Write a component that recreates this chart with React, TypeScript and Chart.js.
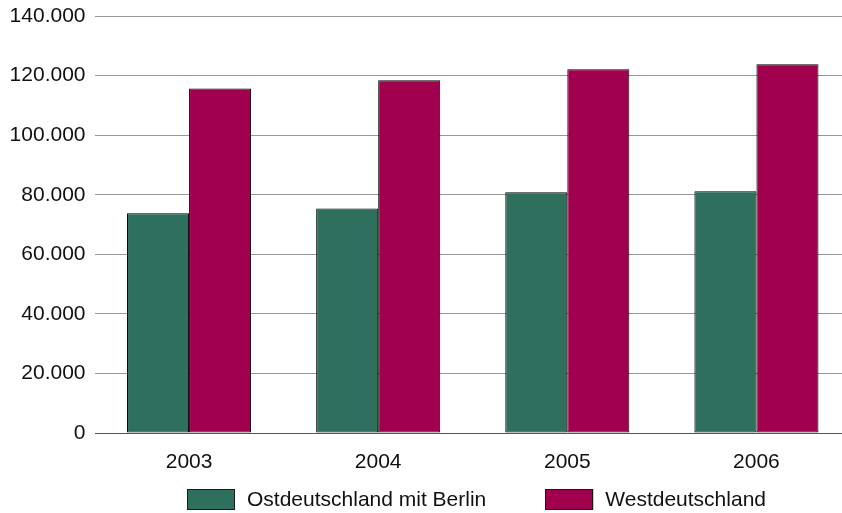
import { useEffect, useRef } from 'react';
import { Chart, registerables } from 'chart.js';

Chart.register(...registerables);

const categories = ['2003', '2004', '2005', '2006'];
const ostValues = [73800, 75400, 80800, 81200];
const westValues = [115700, 118400, 122100, 123800];
const seriesNames = ['Ostdeutschland mit Berlin', 'Westdeutschland'];
const seriesColors = ['#2e6f5e', '#a0004e'];
const yMax = 140000;
const yStep = 20000;

const FONT_FAMILY = "'Liberation Sans', Arial, sans-serif";
const FONT_SIZE = 21;

function fmt(v: number): string {
  return String(v).replace(/\B(?=(\d{3})+(?!\d))/g, '.');
}

const customLegend = {
  id: 'customLegend',
  afterDraw(chart: any) {
    const ctx = chart.ctx as CanvasRenderingContext2D;
    const ds = chart.data.datasets;
    const boxW = 48;
    const boxH = 21;
    const gapText = 12;
    const gapItem = 59;
    const boxTop = 489;
    ctx.save();
    ctx.font = `${FONT_SIZE}px ${FONT_FAMILY}`;
    const widths = ds.map((d: any) => ctx.measureText(d.label).width);
    let total = 0;
    widths.forEach((w: number, i: number) => {
      total += boxW + gapText + w + (i > 0 ? gapItem : 0);
    });
    const area = chart.chartArea;
    const center = (area.left + area.right) / 2 + 4;
    let x = Math.round(center - total / 2);
    ds.forEach((d: any, i: number) => {
      ctx.fillStyle = d.backgroundColor;
      ctx.fillRect(x, boxTop, boxW, boxH);
      ctx.strokeStyle = '#1a1a1a';
      ctx.lineWidth = 1;
      ctx.strokeRect(Math.round(x) + 0.5, boxTop + 0.5, boxW - 1, boxH - 1);
      ctx.fillStyle = '#111';
      ctx.textBaseline = 'middle';
      ctx.textAlign = 'left';
      ctx.fillText(d.label, x + boxW + gapText, boxTop + boxH / 2 + 1);
      x += boxW + gapText + widths[i] + gapItem;
    });
    ctx.restore();
  },
};

export default function App() {
  const ref = useRef<HTMLCanvasElement | null>(null);

  useEffect(() => {
    if (!ref.current) return;
    const common = {
      borderColor: '#000',
      borderWidth: 1,
      borderSkipped: false as const,
      categoryPercentage: 0.656,
      barPercentage: 1,
    };
    const chart = new Chart(ref.current, {
      type: 'bar',
      data: {
        labels: categories,
        datasets: [
          { label: seriesNames[0], data: ostValues, backgroundColor: seriesColors[0], ...common },
          { label: seriesNames[1], data: westValues, backgroundColor: seriesColors[1], ...common },
        ],
      },
      options: {
        responsive: false,
        animation: false,
        devicePixelRatio: 1,
        layout: { padding: { top: 16, left: 0, right: 0, bottom: 0 } },
        plugins: {
          legend: { display: false },
          tooltip: { enabled: false },
        },
        scales: {
          x: {
            grid: { display: false, drawTicks: false },
            border: { display: false },
            ticks: {
              color: '#111',
              font: { family: FONT_FAMILY, size: FONT_SIZE },
              padding: 17,
            },
            afterFit(scale: any) {
              scale.height = 80;
              scale.paddingLeft = 0;
              scale.paddingRight = 0;
            },
          },
          y: {
            min: 0,
            max: yMax,
            border: { display: false },
            grid: {
              drawTicks: false,
              color: (c: any) => (c.tick && c.tick.value === 0 ? '#555' : '#999'),
              lineWidth: 1,
            },
            ticks: {
              stepSize: yStep,
              color: '#111',
              padding: 9,
              font: { family: FONT_FAMILY, size: FONT_SIZE },
              callback: (v: any) => fmt(Number(v)),
            },
            afterFit(scale: any) {
              scale.width = 94.5;
              scale.paddingTop = 0;
              scale.paddingBottom = 0;
            },
          },
        },
      },
      plugins: [customLegend],
    });
    return () => chart.destroy();
  }, []);

  return (
    <div
      style={{
        position: 'absolute',
        left: 0,
        top: 0,
        width: 842,
        height: 513,
        overflow: 'hidden',
        background: '#fff',
      }}
    >
      <canvas ref={ref} width={851} height={513} style={{ width: 851, height: 513, display: 'block' }} />
    </div>
  );
}
